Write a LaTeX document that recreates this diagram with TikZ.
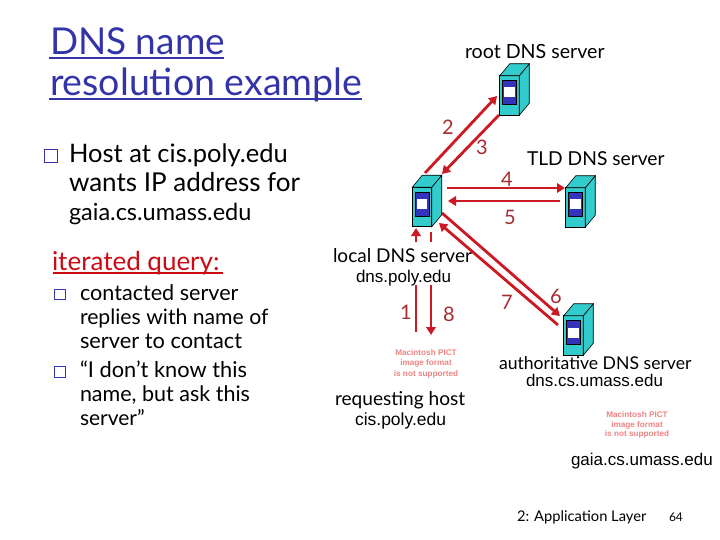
\documentclass[tikz,border=0pt]{standalone}
\usepackage{fontspec}
\setmainfont{Lato}
\newfontfamily\arialf{Liberation Sans}
\usetikzlibrary{arrows.meta}
\definecolor{titleblue}{RGB}{51,51,170}
\definecolor{iterred}{RGB}{204,10,20}
\definecolor{arrowred}{RGB}{205,25,35}
\definecolor{numred}{RGB}{165,45,50}
\definecolor{teal1}{RGB}{51,204,204}
\definecolor{srvblue}{RGB}{51,51,187}
\definecolor{pink}{RGB}{238,130,130}
\tikzset{
 txt/.style={anchor=base west,inner sep=0pt,outer sep=0pt,text=black},
 fsz/.style={font=\fontsize{#1}{#1}\selectfont},
 arial/.style={font=\arialf\fontsize{#1}{#1}\selectfont},
 num/.style={anchor=center,inner sep=0pt,text=numred,font=\fontsize{20}{20}\selectfont},
 pict/.style={anchor=center,inner sep=0pt,text=pink,font=\arialf\bfseries\fontsize{8.2}{8.2}\selectfont},
 flow/.style={draw=arrowred,line width=2.8pt,-{Triangle[length=8pt,width=9.5pt]}},
 front/.style={draw=black,fill=teal1,line width=0.6pt,minimum width=19.5pt,minimum height=39.5pt,inner sep=0pt,outer sep=0pt},
 ul/.style={draw=titleblue,line width=1.5pt},
 box/.style={draw=titleblue,line width=1.3pt,fill=white,minimum size=#1,inner sep=0pt},
}
% #1 name, #2 front-face centre
\newcommand{\srv}[2]{%
 \node[front] (#1) at (#2) {};
 \fill[teal1,draw=black,line width=0.6pt] (#1.north east) -- ++(10pt,12pt) -- ++(0,-39.5pt) -- (#1.south east) -- cycle;
 \fill[teal1,draw=black,line width=0.6pt] (#1.north west) -- ++(10pt,12pt) -- ++(19.5pt,0) -- (#1.north east) -- cycle;
 \node[draw=black,fill=srvblue,minimum width=14pt,minimum height=24pt,inner sep=0pt,line width=0.5pt] (#1b) at ([yshift=3pt]#1.center) {};
 \fill[white] ([xshift=-5.2pt,yshift=-5pt]#1b.center) rectangle ([xshift=5.2pt,yshift=5pt]#1b.center);
}
\begin{document}
\begin{tikzpicture}[x=1pt,y=-1pt]
\useasboundingbox (0,0) rectangle (720,540);
% title
\node[txt,text=titleblue,fsz=37] (t1) at (50,55) {DNS name};
\node[txt,text=titleblue,fsz=37.5] (t2) at (50,96) {resolution example};
\coordinate (u1a) at (49,58); \coordinate (u1b) at (224,58);
\coordinate (u2a) at (49,99); \coordinate (u2b) at (362,99);
\draw[ul] (u1a) -- (u1b);
\draw[ul] (u2a) -- (u2b);
% main bullet
\node[box=13pt] (b0) at (51,156) {};
\node[txt,fsz=25.5] (h1) at (69,163) {Host at cis.poly.edu};
\node[txt,fsz=26] (h2) at (69,192) {wants IP address for};
\node[txt,fsz=23.5] (h3) at (69,221) {gaia.cs.umass.edu};
% iterated
\node[txt,text=iterred,fsz=26] (iq) at (52,270) {iterated query:};
\coordinate (u3a) at (53,273); \coordinate (u3b) at (223,273);
\draw[draw=iterred,line width=1.3pt] (u3a) -- (u3b);
\node[box=10.5pt] (b1) at (60,294.5) {};
\node[box=10.5pt] (b2) at (60,372) {};
\node[txt,fsz=21.6] (c1) at (80,300) {contacted server};
\node[txt,fsz=21.2] (c2) at (80,324) {replies with name of};
\node[txt,fsz=21.8] (c3) at (80,348) {server to contact};
\node[txt,fsz=21.8] (c4) at (80,377) {“I don’t know this};
\node[txt,fsz=21.5] (c5) at (80,401) {name, but ask this};
\node[txt,fsz=21] (c6) at (80,425) {server”};
% servers
\srv{root}{509.5,95.5}
\srv{local}{422,207}
\srv{tld}{575.5,207.5}
\srv{auth}{573.5,335.5}
% connector ends
\coordinate (a2s) at (425,173); \coordinate (a2e) at (497,96);
\coordinate (a3s) at (499,115); \coordinate (a3e) at (442,174);
\coordinate (a4s) at (447,188); \coordinate (a4e) at (565,188);
\coordinate (a5s) at (560,201); \coordinate (a5e) at (448,201);
\coordinate (a6s) at (442,213); \coordinate (a6e) at (560,316);
\coordinate (a7s) at (558,325); \coordinate (a7e) at (439,223);
\coordinate (a1s) at (416,332); \coordinate (a1e) at (416,228);
\coordinate (a8s) at (431,232); \coordinate (a8e) at (431,335);
\draw[flow] (a1s) -- (a1e);
\draw[flow] (a8s) -- (a8e);
% the labels under the local server hide the middle of arrows 1 and 8
\fill[white] (408,242) rectangle (438,285);
\foreach \n in {2,...,7} {\draw[flow] (a\n s) -- (a\n e);}
% labels
\node[txt,fsz=19.6] (lroot) at (465,59) {root DNS server};
\node[txt,fsz=19.2] (ltld) at (527,166) {TLD DNS server};
\node[txt,fsz=19] (llocal) at (333,262) {local DNS server};
\node[txt,arial=17] (ldns) at (356,282) {dns.poly.edu};
\node[txt,fsz=19.1] (lreq) at (335,405) {requesting host};
\node[txt,arial=17.5] (lcis) at (355,425) {cis.poly.edu};
\node[txt,fsz=17.6] (lauth) at (499,369) {authoritative DNS server};
\node[txt,arial=17] (ladns) at (526,386) {dns.cs.umass.edu};
\node[txt,arial=17] (lgaia) at (571,465) {gaia.cs.umass.edu};
\node[txt,fsz=14.7] (foot) at (517,521) {2: Application Layer};
\node[txt,fsz=12] (pg) at (669,521) {64};
% numbers
\node[num] (n2) at (448,127) {2};
\node[num] (n3) at (482,147) {3};
\node[num] (n4) at (507,179) {4};
\node[num] (n5) at (510,217) {5};
\node[num] (n1) at (406,312) {1};
\node[num] (n8) at (449,314) {8};
\node[num] (n7) at (507,302) {7};
\node[num] (n6) at (556,296) {6};
% placeholder image texts
\node[pict] (p1) at (426,353) {Macintosh PICT};
\node[pict] (p2) at (426,363.5) {image format};
\node[pict] (p3) at (426,374) {is not supported};
\node[pict] (q1) at (637,415) {Macintosh PICT};
\node[pict] (q2) at (637,425) {image format};
\node[pict] (q3) at (637,434.5) {is not supported};
\end{tikzpicture}
\end{document}
